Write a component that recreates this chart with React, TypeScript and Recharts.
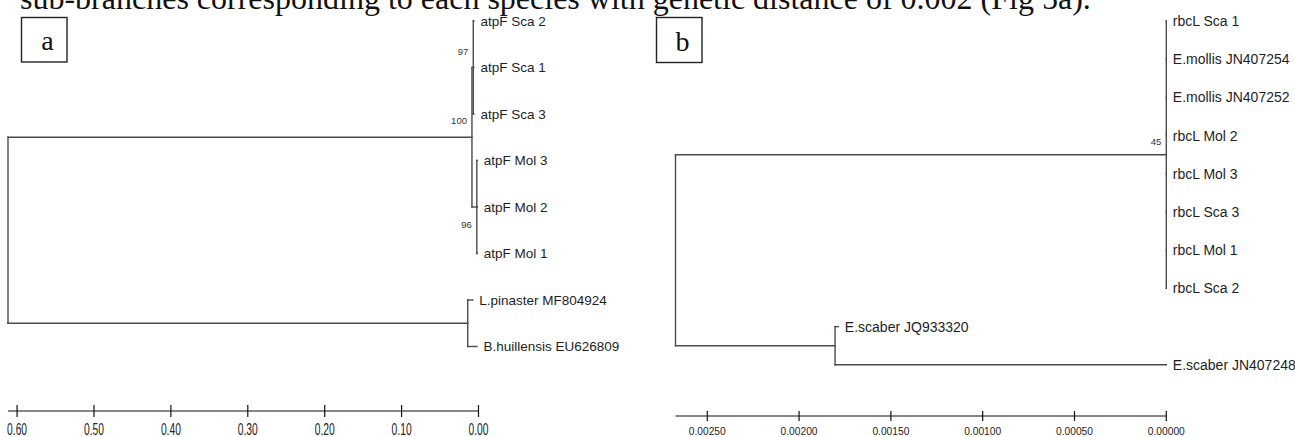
import React from "react";
import { ComposedChart, Line, Scatter, XAxis, YAxis } from "recharts";

type Child = number | string;
type TreeNode = { id: string; height: number; children: Child[]; support?: number };
type Pt = { x: number; y: number };

// ---- panel a (atpF) ----
const LEAVES_A = [
  "atpF Sca 2",
  "atpF Sca 1",
  "atpF Sca 3",
  "atpF Mol 3",
  "atpF Mol 2",
  "atpF Mol 1",
  "L.pinaster MF804924",
  "B.huillensis EU626809",
];
// distance of each tip from 0.00
const TIPS_A = [0.006, 0.006, 0.006, 0.0015, 0.0015, 0.0015, 0.0074, 0.002];
// internal nodes, children first (number = leaf index, string = node id)
const NODES_A: TreeNode[] = [
  { id: "sca", height: 0.0068, children: [0, 1, 2], support: 97 },
  { id: "mol", height: 0.0022, children: [3, 4, 5], support: 96 },
  { id: "in", height: 0.0085, children: ["sca", "mol"], support: 100 },
  { id: "out", height: 0.014, children: [6, 7] },
  { id: "root", height: 0.6118, children: ["in", "out"] },
];
const TICKS_A = [0.6, 0.5, 0.4, 0.3, 0.2, 0.1, 0];

// ---- panel b (rbcL) ----
const LEAVES_B = [
  "rbcL Sca 1",
  "E.mollis JN407254",
  "E.mollis JN407252",
  "rbcL Mol 2",
  "rbcL Mol 3",
  "rbcL Sca 3",
  "rbcL Mol 1",
  "rbcL Sca 2",
  "E.scaber JQ933320",
  "E.scaber JN407248",
];
const TIPS_B = [0, 0, 0, 0, 0, 0, 0, 0, 0.001786, 0];
const NODES_B: TreeNode[] = [
  { id: "rbcl", height: 0, children: [0, 1, 2, 3, 4, 5, 6, 7], support: 45 },
  { id: "scaber", height: 0.001804, children: [8, 9] },
  { id: "root", height: 0.002673, children: ["rbcl", "scaber"] },
];
const TICKS_B = [0.0025, 0.002, 0.0015, 0.001, 0.0005, 0];

// vertical placement of support labels (px above/below node)
const SUPPORT_DY_A = [-16, 18, -17];
const SUPPORT_DY_B = [-13.5];

const BRANCH = "#4a4a4a";
const TEXT = "#1e1e1e";
const SANS = "'Liberation Sans', Arial, sans-serif";
const SERIF = "'Liberation Serif', 'Times New Roman', serif";

function layoutTree(leaves: string[], tips: number[], nodes: TreeNode[]) {
  const pos: Record<string, Pt> = {};
  const at = (c: Child): Pt => (typeof c === "number" ? { x: tips[c], y: c } : pos[c]);
  const segments: Pt[][] = [];
  const supports: { x: number; y: number; value: number }[] = [];
  for (const n of nodes) {
    const kids = n.children.map(at);
    const first = kids[0].y;
    const last = kids[kids.length - 1].y;
    const y = (first + last) / 2;
    pos[n.id] = { x: n.height, y };
    segments.push([
      { x: n.height, y: first },
      { x: n.height, y: last },
    ]);
    kids.forEach((k) =>
      segments.push([
        { x: n.height, y: k.y },
        { x: k.x, y: k.y },
      ])
    );
    if (n.support != null) supports.push({ x: n.height, y, value: n.support });
  }
  const leafPts = leaves.map((name, i) => ({ x: tips[i], y: i, name }));
  return { segments, leafPts, supports };
}

function makeTick(digits: number, fontSize: number, textWidth: number, half: number, dy: number) {
  return (props: any) => {
    const { x, y, payload } = props;
    return (
      <g>
        <line x1={x} x2={x} y1={y - half} y2={y + half} stroke="#111" strokeWidth={1.2} />
        <text
          x={x}
          y={y + dy}
          textAnchor="middle"
          fontSize={fontSize}
          fontFamily={SANS}
          fill="#222"
          textLength={textWidth}
          lengthAdjust="spacingAndGlyphs"
        >
          {Number(payload.value).toFixed(digits)}
        </text>
      </g>
    );
  };
}

type TreeProps = {
  leaves: string[];
  tips: number[];
  nodes: TreeNode[];
  ticks: number[];
  rootHeight: number;
  rows: number;
  width: number;
  margin: { top: number; right: number; bottom: number; left: number };
  axisHeight: number;
  labelSize: number;
  supportDy: number[];
  tick: (p: any) => React.ReactElement;
};

function Tree(p: TreeProps) {
  const { segments, leafPts, supports } = layoutTree(p.leaves, p.tips, p.nodes);
  const supportPts = supports.map((s, i) => ({ ...s, dy: p.supportDy[i] }));
  return (
    <ComposedChart width={p.width} height={437} margin={p.margin}>
      <XAxis
        dataKey="x"
        type="number"
        domain={[0, p.rootHeight]}
        reversed
        ticks={p.ticks}
        interval={0}
        height={p.axisHeight}
        tickSize={0}
        tickMargin={0}
        tickLine={false}
        axisLine={{ stroke: "#111", strokeWidth: 1.2 }}
        tick={p.tick}
      />
      <YAxis dataKey="y" type="number" domain={[0, p.rows]} reversed hide />
      {segments.map((seg, i) => (
        <Line
          key={i}
          data={seg}
          dataKey="y"
          type="linear"
          stroke={BRANCH}
          strokeWidth={1.4}
          strokeLinecap="square"
          dot={false}
          activeDot={false}
          isAnimationActive={false}
        />
      ))}
      <Scatter
        data={leafPts}
        isAnimationActive={false}
        shape={(s: any) => (
          <text
            x={s.cx + 6.5}
            y={s.cy}
            dy="0.36em"
            fontSize={p.labelSize}
            fontFamily={SANS}
            fill={TEXT}
          >
            {s.payload.name}
          </text>
        )}
      />
      <Scatter
        data={supportPts}
        isAnimationActive={false}
        shape={(s: any) => (
          <text
            x={s.cx - 5}
            y={s.cy + s.payload.dy}
            dy="0.36em"
            textAnchor="end"
            fontSize={9.5}
            fontFamily={SANS}
            fill="#333"
          >
            {s.payload.value}
          </text>
        )}
      />
    </ComposedChart>
  );
}

export default function App() {
  return (
    <div
      style={{
        position: "absolute",
        left: 0,
        top: 0,
        width: 1295,
        height: 437,
        background: "#fff",
        overflow: "hidden",
      }}
    >
      <svg width={1295} height={437} style={{ position: "absolute", left: 0, top: 0 }}>
        <text x={20} y={9} fontSize={32} fontFamily={SERIF} fill="#111">
          sub-branches corresponding to each species with genetic distance of 0.002 (Fig 5a).
        </text>
        <rect x={21.5} y={17.5} width={45.5} height={44.5} fill="none" stroke="#222" strokeWidth={1.4} />
        <text x={47.5} y={50} fontSize={28} fontFamily={SERIF} textAnchor="middle" fill="#111">
          a
        </text>
        <rect x={656.5} y={17.5} width={45.5} height={45} fill="none" stroke="#222" strokeWidth={1.4} />
        <text x={682.5} y={51} fontSize={28} fontFamily={SERIF} textAnchor="middle" fill="#111">
          b
        </text>
      </svg>
      <div style={{ position: "absolute", left: 0, top: 0 }}>
        <Tree
          leaves={LEAVES_A}
          tips={TIPS_A}
          nodes={NODES_A}
          ticks={TICKS_A}
          rootHeight={0.6118}
          rows={8.387}
          width={640}
          margin={{ top: 21, right: 161.5, bottom: 0, left: 8 }}
          axisHeight={26}
          labelSize={13.5}
          supportDy={SUPPORT_DY_A}
          tick={makeTick(2, 16, 20, 6, 24)}
        />
      </div>
      <div style={{ position: "absolute", left: 640, top: 0 }}>
        <Tree
          leaves={LEAVES_B}
          tips={TIPS_B}
          nodes={NODES_B}
          ticks={TICKS_B}
          rootHeight={0.002673}
          rows={10.34}
          width={655}
          margin={{ top: 21, right: 128.7, bottom: 0, left: 35.5 }}
          axisHeight={21}
          labelSize={14}
          supportDy={SUPPORT_DY_B}
          tick={makeTick(5, 11.5, 37, 5, 19)}
        />
      </div>
    </div>
  );
}
